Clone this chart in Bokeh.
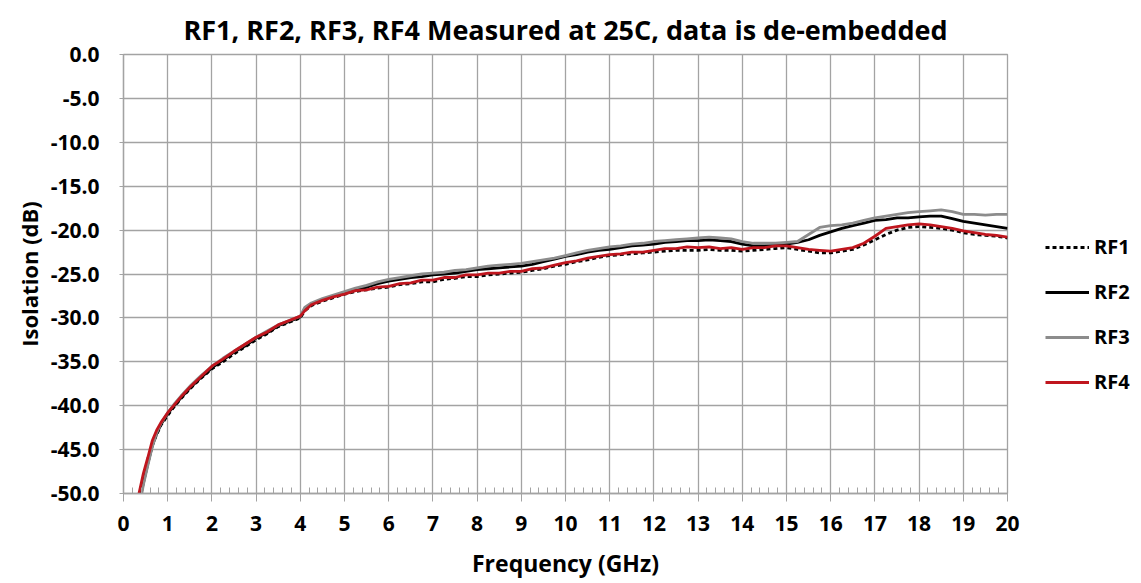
from bokeh.plotting import figure
from bokeh.models import (ColumnDataSource, Legend, LegendItem, FixedTicker,
                          PrintfTickFormatter, Range1d)
from bokeh.embed import file_html
from bokeh.resources import INLINE

title_text = "RF1, RF2, RF3, RF4 Measured at 25C, data is de-embedded"
x_label = "Frequency (GHz)"
y_label = "Isolation (dB)"
series_names = ["RF1", "RF2", "RF3", "RF4"]

freq = [0.35, 0.45, 0.55, 0.65, 0.75, 0.85, 1.0, 1.15, 1.3, 1.5, 1.75, 2.0, 2.25, 2.5,
        2.75, 3.0, 3.25, 3.5, 3.75, 4.0, 4.1, 4.25, 4.5, 4.75, 5.0, 5.25, 5.5, 5.75,
        6.0, 6.25, 6.5, 6.75, 7.0, 7.25, 7.5, 7.75, 8.0, 8.25, 8.5, 8.75, 9.0, 9.25,
        9.5, 9.75, 10.0, 10.25, 10.5, 10.75, 11.0, 11.25, 11.5, 11.75, 12.0, 12.25,
        12.5, 12.75, 13.0, 13.25, 13.5, 13.75, 14.0, 14.25, 14.5, 14.75, 15.0, 15.25,
        15.5, 15.75, 16.0, 16.25, 16.5, 16.75, 17.0, 17.25, 17.5, 17.75, 18.0, 18.25,
        18.5, 18.75, 19.0, 19.25, 19.5, 19.75, 20.0]

rf1 = [-50.8, -48.5, -46.5, -44.5, -43.3, -42.2, -41.1, -40.1, -39.2, -38.1, -36.9, -35.8,
       -35.0, -34.1, -33.3, -32.5, -31.8, -31.0, -30.5, -30.0, -29.2, -28.6, -28.1, -27.7,
       -27.3, -27.0, -26.8, -26.6, -26.5, -26.2, -26.1, -25.9, -25.9, -25.6, -25.5, -25.3,
       -25.3, -25.1, -25.0, -24.9, -24.8, -24.6, -24.4, -24.1, -23.9, -23.6, -23.4, -23.1,
       -22.9, -22.8, -22.7, -22.6, -22.5, -22.4, -22.3, -22.3, -22.3, -22.2, -22.3, -22.3,
       -22.4, -22.3, -22.2, -22.1, -22.0, -22.2, -22.4, -22.6, -22.6, -22.4, -22.2, -21.7,
       -21.1, -20.5, -20.0, -19.7, -19.6, -19.7, -19.8, -20.0, -20.3, -20.5, -20.6, -20.7,
       -20.9]

rf2 = [-51.2, -48.8, -46.6, -44.6, -43.2, -42.1, -40.9, -40.0, -39.1, -38.0, -36.8, -35.7,
       -34.8, -33.9, -33.2, -32.3, -31.7, -30.9, -30.4, -29.9, -29.0, -28.4, -27.9, -27.5,
       -27.1, -26.8, -26.5, -26.1, -25.8, -25.6, -25.4, -25.3, -25.1, -25.0, -24.9, -24.7,
       -24.5, -24.4, -24.3, -24.2, -24.1, -23.9, -23.6, -23.3, -23.0, -22.8, -22.5, -22.3,
       -22.2, -22.0, -21.8, -21.7, -21.6, -21.4, -21.3, -21.2, -21.2, -21.1, -21.2, -21.3,
       -21.6, -21.8, -21.8, -21.7, -21.6, -21.4, -21.1, -20.6, -20.2, -19.8, -19.5, -19.2,
       -18.9, -18.8, -18.6, -18.6, -18.5, -18.4, -18.4, -18.7, -19.0, -19.2, -19.4, -19.6,
       -19.8]

rf3 = [-51.8, -49.0, -46.8, -44.7, -43.1, -42.0, -40.8, -39.8, -38.9, -37.8, -36.6, -35.5,
       -34.6, -33.8, -33.0, -32.2, -31.5, -30.8, -30.3, -29.8, -28.8, -28.3, -27.8, -27.4,
       -27.0, -26.6, -26.3, -25.9, -25.6, -25.4, -25.2, -25.0, -24.9, -24.8, -24.6, -24.5,
       -24.3, -24.1, -24.0, -23.9, -23.8, -23.6, -23.4, -23.2, -22.9, -22.6, -22.3, -22.1,
       -21.9, -21.8, -21.6, -21.5, -21.3, -21.2, -21.1, -21.0, -20.9, -20.8, -20.9, -21.0,
       -21.3, -21.5, -21.5, -21.5, -21.4, -21.3, -20.5, -19.7, -19.5, -19.4, -19.2, -18.9,
       -18.6, -18.4, -18.2, -18.0, -17.9, -17.8, -17.7, -17.9, -18.2, -18.2, -18.3, -18.2,
       -18.2]

rf4 = [-50.0, -47.7, -45.9, -44.0, -42.8, -41.9, -40.8, -39.9, -39.0, -37.9, -36.7, -35.5,
       -34.7, -33.8, -33.0, -32.2, -31.6, -30.8, -30.3, -29.8, -29.2, -28.5, -28.0, -27.6,
       -27.3, -26.9, -26.8, -26.5, -26.4, -26.1, -26.0, -25.7, -25.7, -25.4, -25.4, -25.1,
       -25.1, -24.9, -24.9, -24.7, -24.7, -24.4, -24.3, -24.0, -23.7, -23.5, -23.2, -23.0,
       -22.8, -22.7, -22.5, -22.5, -22.3, -22.1, -22.1, -21.9, -22.0, -21.9, -22.1, -22.0,
       -22.2, -22.0, -22.0, -21.8, -21.8, -22.0, -22.2, -22.3, -22.4, -22.2, -22.0, -21.5,
       -20.7, -19.8, -19.6, -19.4, -19.3, -19.4, -19.6, -19.8, -20.1, -20.3, -20.5, -20.6,
       -20.8]

x_ticks = list(range(0, 21))
y_ticks = [-50, -45, -40, -35, -30, -25, -20, -15, -10, -5, 0]

FONT = "Open Sans"
GRID = "#a3a3a3"

p = figure(frame_width=884, frame_height=439, output_backend="svg", toolbar_location=None,
           x_range=Range1d(0, 20), y_range=Range1d(-50, 0),
           min_border_left=123, min_border_right=134, min_border_top=54,
           min_border_bottom=90)

p.title.text = title_text
p.title.align = "center"
p.title.text_font = FONT
p.title.text_font_size = "27px"
p.title.text_font_style = "bold"
p.title.text_color = "black"
p.title.standoff = 13

p.outline_line_color = GRID
p.outline_line_width = 1.3

p.xgrid.grid_line_color = GRID
p.ygrid.grid_line_color = GRID
p.xgrid.grid_line_width = 1.3
p.ygrid.grid_line_width = 1.3

p.xaxis.ticker = FixedTicker(ticks=x_ticks,
                             minor_ticks=[i / 5 for i in range(0, 101) if i % 5])
p.yaxis.ticker = FixedTicker(ticks=y_ticks)
p.yaxis.formatter = PrintfTickFormatter(format="%.1f")

for ax in (p.xaxis[0], p.yaxis[0]):
    ax.axis_line_color = GRID
    ax.axis_line_width = 1.3
    ax.major_tick_line_color = GRID
    ax.minor_tick_line_color = GRID
    ax.major_label_text_font = FONT
    ax.major_label_text_font_style = "bold"
    ax.major_label_text_font_size = "21px"
    ax.major_label_text_color = "black"
    ax.axis_label_text_font = FONT
    ax.axis_label_text_font_style = "bold"
    ax.axis_label_text_color = "black"

p.xaxis.axis_label_text_font_size = "23px"
p.yaxis.axis_label_text_font_size = "22px"

p.xaxis.major_tick_in = 0
p.xaxis.major_tick_out = 8
p.xaxis.minor_tick_in = 6
p.xaxis.minor_tick_out = 0
p.xaxis.major_label_standoff = 14
p.xaxis.axis_label = x_label
p.xaxis.axis_label_standoff = 13

p.yaxis.major_tick_in = 0
p.yaxis.major_tick_out = 4
p.yaxis.minor_tick_line_color = None
p.yaxis.major_label_standoff = 20
p.yaxis.axis_label = y_label
p.yaxis.axis_label_standoff = 4

src = ColumnDataSource(dict(f=freq, rf1=rf1, rf2=rf2, rf3=rf3, rf4=rf4))

r1 = p.line("f", "rf1", source=src, line_color="black", line_width=2.8,
            line_dash="4 3")
r2 = p.line("f", "rf2", source=src, line_color="black", line_width=2.8)
r3 = p.line("f", "rf3", source=src, line_color="#8c8c8c", line_width=2.8)
r4 = p.line("f", "rf4", source=src, line_color="#c0161e", line_width=2.8)

legend = Legend(items=[LegendItem(label=n, renderers=[r])
                       for n, r in zip(series_names, [r1, r2, r3, r4])],
                location=(38, 98), orientation="vertical",
                glyph_width=44, glyph_height=20, label_height=20, spacing=18,
                label_standoff=5, padding=0, margin=0,
                background_fill_alpha=0, border_line_color=None,
                label_text_font=FONT, label_text_font_style="bold",
                label_text_font_size="20px", label_text_color="black")
p.add_layout(legend, "right")

open("out.html", "w").write(file_html(p, INLINE))
